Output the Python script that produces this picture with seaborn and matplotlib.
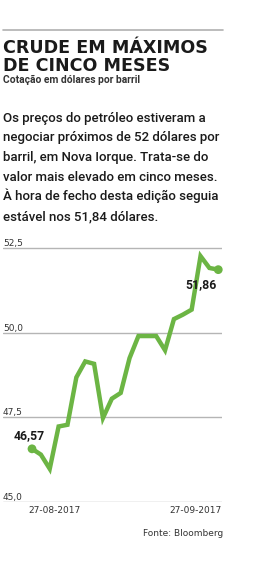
import matplotlib
matplotlib.use("Agg")
import matplotlib.pyplot as plt
import seaborn as sns
import pandas as pd
import numpy as np

# ---- data ----
day_index = list(range(22))
prices = [46.57, 46.40, 45.98, 47.23, 47.28, 48.68, 49.15, 49.08, 47.48, 48.05,
          48.22, 49.25, 49.90, 49.90, 49.90, 49.48, 50.40, 50.53, 50.68, 52.26,
          51.91, 51.86]
y_ticks = [45.0, 47.5, 50.0, 52.5]
y_tick_labels = ["45,0", "47,5", "50,0", "52,5"]
x_tick_pos = [2.5, 18.4]
x_tick_labels = ["27-08-2017", "27-09-2017"]
first_label = "46,57"
last_label = "51,86"

title_lines = ["CRUDE EM MÁXIMOS", "DE CINCO MESES"]
subtitle = "Cotação em dólares por barril"
body = ["Os preços do petróleo estiveram a",
        "negociar próximos de 52 dólares por",
        "barril, em Nova Iorque. Trata-se do",
        "valor mais elevado em cinco meses.",
        "À hora de fecho desta edição seguia",
        "estável nos 51,84 dólares."]
source = "Fonte: Bloomberg"

df = pd.DataFrame({"dia": day_index, "preco": prices})

sns.set_theme(style="white")
W, H = 261, 561
fig = plt.figure(figsize=(W / 100, H / 100), dpi=100)
fig.patch.set_facecolor("white")

green = "#6cb544"
dark = "#1a1a1a"

def px(x, y):
    return x / W, 1 - y / H

# top rule
fig.add_artist(plt.Line2D([3 / W, 223 / W], [1 - 29.5 / H] * 2, color="#b0b0b0", lw=1.2))

fig.text(*px(3, 53.3), title_lines[0], fontsize=12.6, fontweight="bold", family=["DejaVu Sans"],
         color=dark, va="baseline", ha="left")
fig.text(*px(3, 70.7), title_lines[1], fontsize=12.6, fontweight="bold", family=["DejaVu Sans"],
         color=dark, va="baseline", ha="left")
fig.text(*px(3, 83.3), subtitle, fontsize=7.4, fontweight="bold", family=["Roboto"],
         color="#333333", va="baseline", ha="left")

for i, line in enumerate(body):
    fig.text(*px(3, 121.6 + 19.7 * i), line, fontsize=9.5, family=["Roboto"], fontweight="medium",
             color=dark, va="baseline", ha="left")

# axes
top_px, bot_px = 244.6, 502.0
ax = fig.add_axes([3 / W, 1 - bot_px / H, 219 / W, (bot_px - top_px) / H])
ax.set_facecolor("none")
step = 8.87
ax.set_xlim(-(32 - 3) / step, (222 - 32) / step)
ax.set_ylim(45.0, 45.0 + (bot_px - top_px) / 33.87)

for v, lab in zip(y_ticks, y_tick_labels):
    ax.axhline(v, color="#b5b5b5", lw=1.0, zorder=1)
    ax.text(0.0, v, lab, transform=ax.get_yaxis_transform(), fontsize=6.5,
            color="#333333", ha="left", va="bottom", family=["DejaVu Sans"])

sns.lineplot(data=df, x="dia", y="preco", ax=ax, color=green, lw=3.2, zorder=3,
             solid_joinstyle="miter")
ends = df.iloc[[0, -1]]
sns.scatterplot(data=ends, x="dia", y="preco", ax=ax, color=green, s=40,
                edgecolor="none", zorder=4, clip_on=False)

ax.text(df["dia"].iloc[0] - 0.34, df["preco"].iloc[0] + 0.28, first_label, fontsize=8.8,
        fontweight="bold", family=["Roboto"], color=dark, ha="center", va="baseline")
ax.text(df["dia"].iloc[-1] - 1.9, df["preco"].iloc[-1] - 0.55, last_label, fontsize=8.8,
        fontweight="bold", family=["Roboto"], color=dark, ha="center", va="baseline")

ax.set_xticks(x_tick_pos)
ax.set_xticklabels(x_tick_labels, fontsize=6.5, color="#333333")
ax.set_yticks([])
ax.tick_params(axis="x", length=0, pad=3)
ax.set_xlabel("")
ax.set_ylabel("")
for s in ax.spines.values():
    s.set_visible(False)

fig.text(*px(223, 534), source, fontsize=6.5, color="#333333", ha="right", va="center")

fig.savefig("out.png", dpi=100, facecolor="white")
